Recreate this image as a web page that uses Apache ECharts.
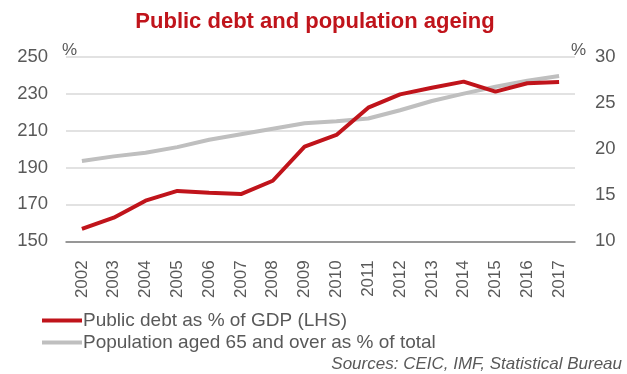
<!DOCTYPE html>
<html>
<head>
<meta charset="utf-8">
<script src="https://cdn.jsdelivr.net/npm/echarts@6/dist/echarts.min.js"></script>
<style>
  html, body { margin: 0; padding: 0; background: #fff; }
  #chart { width: 627px; height: 374px; }
</style>
</head>
<body>
<div id="chart"></div>
<script>
// Years on the category axis
const years = ['2002','2003','2004','2005','2006','2007','2008','2009',
               '2010','2011','2012','2013','2014','2015','2016','2017'];
// Public debt, % of GDP (left axis)
const publicDebt = [156.7, 162.8, 172.0, 177.3, 176.3, 175.6, 182.8, 201.3,
                    207.6, 222.4, 229.6, 233.2, 236.5, 231.1, 235.6, 236.3];
// Population aged 65 and over, % of total (right axis)
const aged65 = [18.7, 19.2, 19.6, 20.2, 21.0, 21.6, 22.2, 22.8,
                23.0, 23.3, 24.2, 25.2, 26.0, 26.75, 27.4, 27.9];
// Axis tick labels
const leftTicks = [150, 170, 190, 210, 230, 250];
const rightTicks = [10, 15, 20, 25, 30];

const seriesNames = ['Public debt as % of GDP (LHS)', 'Population aged 65 and over as % of total'];
const FONT = '"Liberation Sans", Arial, sans-serif';
const TEXT = '#595959';

const chart = echarts.init(document.getElementById('chart'), null, { renderer: 'canvas' });

chart.setOption({
  animation: false,
  textStyle: { fontFamily: FONT },
  title: {
    text: 'Public debt and population ageing',
    left: 315,
    textAlign: 'center',
    top: 11,
    padding: 0,
    textStyle: { fontFamily: FONT, fontSize: 22, fontWeight: 'bold', color: '#C0141B' }
  },
  grid: { left: 66, right: 52, top: 56.7, bottom: 132.7, containLabel: false },
  legend: {
    orient: 'vertical',
    left: 42,
    top: 311,
    padding: 0,
    itemWidth: 40,
    itemHeight: 4,
    itemGap: 3,
    icon: 'rect',
    textStyle: { fontFamily: FONT, fontSize: 19, color: TEXT, padding: [0, 0, 0, -4] },
    data: seriesNames
  },
  graphic: [{
    type: 'text',
    right: 5,
    top: 356,
    style: {
      text: 'Sources: CEIC, IMF, Statistical Bureau',
      font: 'italic 17px ' + FONT,
      fill: TEXT
    }
  }],
  xAxis: {
    type: 'category',
    data: years,
    boundaryGap: true,
    axisLine: { lineStyle: { color: '#7f7f7f', width: 1.5 } },
    axisTick: { show: false },
    axisLabel: { rotate: 90, margin: 19, fontSize: 17, color: TEXT, fontFamily: FONT }
  },
  yAxis: [{
    type: 'value',
    name: '%',
    nameLocation: 'end',
    nameGap: -2,
    nameTextStyle: { fontSize: 17, color: TEXT, align: 'left', padding: [0, 0, 0, -4] },
    min: leftTicks[0],
    max: leftTicks[leftTicks.length - 1],
    interval: leftTicks[1] - leftTicks[0],
    axisLine: { show: false },
    axisTick: { show: false },
    axisLabel: { fontSize: 18.5, color: TEXT, margin: 18, fontFamily: FONT },
    splitLine: { lineStyle: { color: '#d9d9d9', width: 1.5 } }
  }, {
    type: 'value',
    name: '%',
    nameLocation: 'end',
    nameGap: -2,
    nameTextStyle: { fontSize: 17, color: TEXT, align: 'left', padding: [0, 0, 0, -4] },
    min: rightTicks[0],
    max: rightTicks[rightTicks.length - 1],
    interval: rightTicks[1] - rightTicks[0],
    axisLine: { show: false },
    axisTick: { show: false },
    axisLabel: { fontSize: 18.5, color: TEXT, margin: 20, fontFamily: FONT },
    splitLine: { show: false }
  }],
  series: [{
    name: seriesNames[1],
    type: 'line',
    yAxisIndex: 1,
    data: aged65,
    symbol: 'none',
    lineStyle: { color: '#BFBFBF', width: 4 },
    itemStyle: { color: '#BFBFBF' },
    z: 2
  }, {
    name: seriesNames[0],
    type: 'line',
    yAxisIndex: 0,
    data: publicDebt,
    symbol: 'none',
    lineStyle: { color: '#C0141B', width: 4 },
    itemStyle: { color: '#C0141B' },
    z: 3
  }]
});
</script>
</body>
</html>
